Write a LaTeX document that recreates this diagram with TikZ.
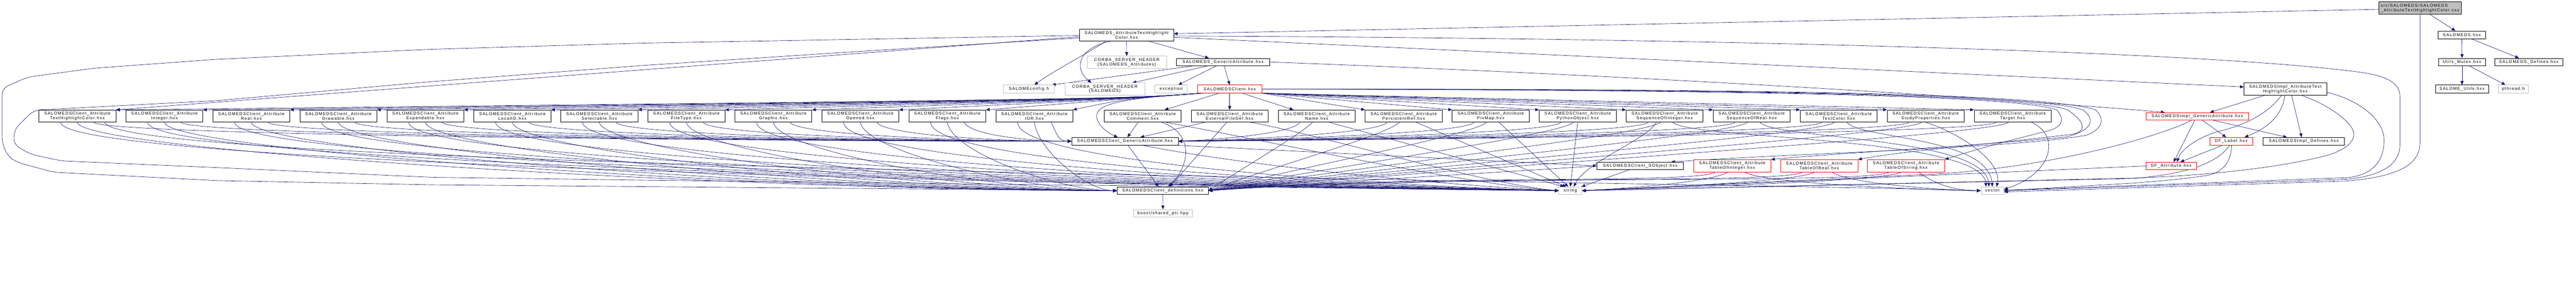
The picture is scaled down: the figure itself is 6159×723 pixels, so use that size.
\documentclass[tikz,border=0pt]{standalone}
\usepackage{fontspec}
\setmainfont{Liberation Sans}[LetterSpace=15]
\usetikzlibrary{arrows.meta,calc,backgrounds}
\definecolor{edgec}{RGB}{25,25,112}
\definecolor{graybd}{RGB}{191,191,191}
\definecolor{topfill}{RGB}{191,191,191}
\begin{document}
\begin{tikzpicture}[x=1pt,y=-1pt,
  lnk/.style={draw=edgec, line width=0.8pt, -{Triangle[length=9pt,width=7.5pt]}},
  bx/.style={draw=black, line width=0.8pt, fill=white, inner sep=0pt, align=center, font=\fontsize{10}{11}\selectfont},
  gbx/.style={bx, draw=graybd},
  rbx/.style={bx, draw=red},
  attr/.style={bx, minimum width=184pt, minimum height=29pt},
  rattr/.style={rbx, minimum width=185pt, minimum height=29pt},
]
\useasboundingbox (0,0) rectangle (6159,723);

% ---------------- nodes ----------------
\node[bx, fill=topfill, minimum width=198pt, minimum height=29pt, align=left] (cxx) at (5786,19.2) {src/SALOMEDS/SALOMEDS\\\_AttributeTextHighlightColor.cxx};
\node[bx, minimum width=114pt, minimum height=19pt] (sds) at (5886,83.5) {SALOMEDS.hxx};
\node[bx, minimum width=111pt, minimum height=18pt] (mutex) at (5886.5,148) {Utils\_Mutex.hxx};
\node[bx, minimum width=162pt, minimum height=18pt] (sdsdef) at (6046,148) {SALOMEDS\_Defines.hxx};
\node[bx, minimum width=127pt, minimum height=19pt] (sutils) at (5886.5,212.5) {SALOME\_Utils.hxx};
\node[gbx, minimum width=72pt, minimum height=19pt] (pthread) at (6009,212.5) {pthread.h};

\node[bx, minimum width=225pt, minimum height=29pt] (ahxx) at (2693.5,83.5) {SALOMEDS\_AttributeTextHighlight\\Color.hxx};
\node[gbx, minimum width=190pt, minimum height=29pt] (corbaA) at (2694,148.5) {CORBA\_SERVER\_HEADER\\(SALOMEDS\_Attributes)};
\node[bx, minimum width=222pt, minimum height=18pt] (sgen) at (2924,148) {SALOMEDS\_GenericAttribute.hxx};
\node[gbx, minimum width=191pt, minimum height=29pt] (corbaS) at (2641.5,212.5) {CORBA\_SERVER\_HEADER\\(SALOMEDS)};
\node[gbx, minimum width=78pt, minimum height=19pt] (exc) at (2800,212.5) {exception};
\node[rbx, minimum width=154pt, minimum height=19pt] (client) at (2940,212.5) {SALOMEDSClient.hxx};
\node[gbx, minimum width=122pt, minimum height=19pt] (sconf) at (2460,212.5) {SALOMEconfig.h};

\foreach \n/\x/\t in {cthc/185/TextHighlightColor, cint/393/Integer, creal/601/Real,
  cdraw/809/Drawable, cexp/1017/Expandable, cloc/1225/LocalID, csel/1433/Selectable,
  cfile/1641/FileType, cgra/1849/Graphic, copen/2057/Opened, cflag/2265/Flags, cior/2473/IOR,
  ccom/2732/Comment, cext/2940/ExternalFileDef, cname/3148/Name, cpers/3356/PersistentRef,
  cpix/3564/PixMap, cpyo/3772/PythonObject, csqi/3980/SequenceOfInteger,
  csqr/4188/SequenceOfReal, ctc/4396/TextColor, cstp/4604/StudyProperties, ctgt/4812/Target}
  \node[attr] (\n) at (\x,277) {SALOMEDSClient\_Attribute\\\t.hxx};

\node[bx, minimum width=255pt, minimum height=18pt] (cgen) at (2689.5,337) {SALOMEDSClient\_GenericAttribute.hxx};
\node[bx, minimum width=218pt, minimum height=18pt] (cdef) at (2780,455) {SALOMEDSClient\_definitions.hxx};
\node[gbx, minimum width=141pt, minimum height=18pt] (boost) at (2780.5,509) {boost/shared\_ptr.hpp};
\node[gbx, minimum width=55pt, minimum height=18pt] (str) at (3754.5,455) {string};
\node[bx, minimum width=207pt, minimum height=18pt] (sobj) at (3921.5,396) {SALOMEDSClient\_SObject.hxx};
\node[rattr] (ctoi) at (4141.5,395.5) {SALOMEDSClient\_Attribute\\TableOfInteger.hxx};
\node[rattr] (ctor) at (4349.5,395.5) {SALOMEDSClient\_Attribute\\TableOfReal.hxx};
\node[rattr] (ctos) at (4557,395.5) {SALOMEDSClient\_Attribute\\TableOfString.hxx};
\node[gbx, minimum width=55pt, minimum height=18pt] (vec) at (4763.5,455) {vector};
\node[bx, minimum width=198pt, minimum height=29pt] (iathc) at (5464,212.5) {SALOMEDSImpl\_AttributeText\\HighlightColor.hxx};
\node[rbx, minimum width=245pt, minimum height=18pt] (igen) at (5253.5,277.5) {SALOMEDSImpl\_GenericAttribute.hxx};
\node[rbx, minimum width=103pt, minimum height=18pt] (dflab) at (5334.5,337) {DF\_Label.hxx};
\node[bx, minimum width=194pt, minimum height=18pt] (idef) at (5508,337) {SALOMEDSImpl\_Defines.hxx};
\node[rbx, minimum width=120pt, minimum height=18pt] (dfatt) at (5191,396) {DF\_Attribute.hxx};

% ---------------- edges ----------------
\begin{pgfonlayer}{background}
% top
\draw[lnk] ($(cxx.west)+(0,3)$) -- ($(ahxx.east)+(0,-3)$);
\draw[lnk] (cxx) -- (sds);
\draw[lnk] (sds) -- (mutex);
\draw[lnk] (sds) -- (sdsdef);
\draw[lnk] (mutex) -- (sutils);
\draw[lnk] (mutex) -- (pthread);
\draw[lnk] (cxx.south) -- (5786,340) .. controls (5786,395) and (5730,422) .. (5610,432) -- ($(vec.east)+(0,3)$);

% SALOMEDS_AttributeTextHighlightColor.hxx
\draw[lnk] (ahxx) -- (corbaA);
\draw[lnk] ($(ahxx.south)+(-38,0)$) .. controls (2575,115) and (2568,165) .. ($(corbaS.north)+(-32,0)$);
\draw[lnk] ($(ahxx.south)+(-50,0)$) .. controls (2600,128) and (2525,165) .. ($(sconf.north)+(13,0)$);
\draw[lnk] (ahxx) -- (sgen);
\draw[lnk] ($(ahxx.east)+(0,5.5)$) -- ($(iathc.west)+(0,-5)$);
\draw[lnk] ($(ahxx.west)+(0,4)$) -- (cthc.north east);
\draw[lnk, rounded corners=15pt] ($(ahxx.west)+(0,1)$) -- (1530,103) -- (1020,118) -- (510,142) -- (223,163) -- (66,184) -- (5,211) -- (5,340) -- (18,372) -- (40,387) -- (128,411) -- (520,431) -- (1030,441) -- (cdef.west);
\draw[lnk, rounded corners=15pt] ($(ahxx.west)+(0,7)$) -- (2050,123) -- (1540,156) -- (1030,195) -- (520,240) -- (81,263) -- (34,309) -- (33,345) -- (73,368) -- (147,384) -- (520,400) -- (1030,423) -- (1540,430) -- (str.west);
\draw[lnk] ($(ahxx.east)+(0,2.5)$) .. controls (4000,90) and (5250,120) .. (5640,172) .. controls (5700,180) and (5738,195) .. (5738,230) -- (5738,345) .. controls (5738,395) and (5690,420) .. (5610,428) -- (vec.east);

% SALOMEDS_GenericAttribute.hxx
\draw[lnk] ($(sgen.south)+(-37,0)$) -- ($(corbaS.north)+(66,0)$);
\draw[lnk] ($(sgen.south)+(-72,0)$) -- ($(sconf.north)+(55,0)$);
\draw[lnk] ($(sgen.south)+(-16,0)$) -- ($(exc.north)+(17,0)$);
\draw[lnk] ($(sgen.south)+(3,0)$) -- (client.north);
\draw[lnk] (sgen.east) .. controls (3900,180) and (4700,228) .. ($(igen.north west)+(45,0)$);

% SALOMEDSClient.hxx
\draw[lnk] ($(client.south)+(-25,0)$) -- ($(ccom.north east)+(-40,0)$);
\draw[lnk] (client) -- (cext);
\draw[lnk] ($(client.south west)+(20,0)$) .. controls (2700,233) and (2620,245) .. (2622,278) .. controls (2624,300) and (2650,318) .. ($(cgen.north)+(-17,0)$);
\draw[lnk] ($(client.south)+(30,0)$) -- ($(cname.north west)+(37,0)$);
\foreach \n in {cpers,cpix,cpyo,csqi,csqr,ctc,cstp,ctgt}
  \draw[lnk] (client.south east) -- (\n.north west);
\draw[lnk] (client.east) .. controls (4200,215) and (4820,228) .. (4917,262) .. controls (4935,282) and (4935,302) .. (4897,312) .. controls (4860,322) and (4760,345) .. (ctos.north east);
\draw[lnk] (client.east) .. controls (4200,214) and (4840,226) .. (4943,262) .. controls (4985,290) and (4990,312) .. (4957,320) .. controls (4800,340) and (4550,360) .. (ctor.north east);
\draw[lnk] (client.east) .. controls (4200,213) and (4860,224) .. (4980,262) .. controls (5010,285) and (5005,310) .. (4940,327) .. controls (4700,350) and (4400,365) .. (ctoi.north east);
\draw[lnk] (client.east) .. controls (4200,212) and (4880,222) .. (5010,262) .. controls (5035,285) and (5025,310) .. (4987,323) .. controls (4800,355) and (4300,365) .. ($(sobj.north east)+(-30,0)$);

% left attribute boxes
\foreach \n/\x in {cthc/185,cint/393,creal/601,cdraw/809,cexp/1017,cloc/1225,csel/1433,cfile/1641,cgra/1849,copen/2057,cflag/2265,cior/2473}{
  \pgfmathsetmacro\dg{0.35*(2562-\x)}
  \pgfmathsetmacro\dd{0.35*(2671-\x)}
  \pgfmathsetmacro\ds{0.3*(3727-\x)}
  \draw[lnk] ($(client.south west)+(10,0)$) .. controls (2690,236) .. (\n.north east);
  \draw[lnk] ($(\n.south)+(40,0)$) .. controls +(15,30) and +(-\dg,0) .. (cgen.west);
  \draw[lnk] (\n.south) .. controls +(10,70) and +(-\dd,0) .. (cdef.west);
  \draw[lnk] ($(\n.south)+(-40,0)$) .. controls +(0,100) and +(-\ds,-10) .. (str.west);
}
\draw[lnk] ($(cthc.south)+(65,0)$) .. controls +(30,110) and +(-900,-25) .. (vec.west);

% Comment, ExternalFileDef
\draw[lnk] ($(ccom.south)+(-11,0)$) -- ($(cgen.north)+(6,0)$);
\draw[lnk] ($(ccom.south)+(45,0)$) .. controls (2850,315) and (2850,390) .. ($(cdef.north)+(13,0)$);
\draw[lnk] ($(ccom.south)+(55,0)$) .. controls (3000,330) and (3500,440) .. (str.west);
\draw[lnk] ($(cext.south)+(-60,0)$) -- ($(cgen.north)+(37,0)$);
\draw[lnk] ($(cext.south)+(-7,0)$) -- ($(cdef.north)+(17,0)$);
\draw[lnk] ($(cext.south)+(50,0)$) .. controls (3150,320) and (3550,440) .. (str.west);

% right attribute boxes
\foreach \n/\x in {cname/3148,cpers/3356,cpix/3564,cpyo/3772,csqi/3980,csqr/4188,ctc/4396,cstp/4604,ctgt/4812}{
  \pgfmathsetmacro\dg{0.35*(\x-2817)}
  \pgfmathsetmacro\dd{0.35*(\x-2889)}
  \draw[lnk] ($(\n.south)+(-40,0)$) .. controls +(-15,25) and +(\dg,-5) .. (cgen.east);
  \draw[lnk] ($(\n.south)+(-10,0)$) .. controls +(-30,30) and +(\dd,-60) .. (cdef.east);
}
\draw[lnk] ($(cname.south)+(30,0)$) -- ($(str.north)+(-15,0)$);
\draw[lnk] ($(cpers.south)+(30,0)$) -- ($(str.north)+(-10,0)$);
\draw[lnk] ($(cpix.south)+(20,0)$) -- ($(str.north)+(-5,0)$);
\draw[lnk] (cpyo.south) -- (str.north);
\draw[lnk] ($(csqi.south)+(-20,0)$) .. controls +(-20,40) and +(30,-60) .. ($(str.north)+(8,0)$);
\draw[lnk] ($(csqi.south)+(20,0)$) .. controls +(30,40) and +(-10,-120) .. ($(vec.north)+(-15,0)$);
\draw[lnk] ($(csqr.south)+(20,0)$) .. controls +(30,40) and +(-10,-120) .. ($(vec.north)+(-8,0)$);
\draw[lnk] ($(ctc.south)+(20,0)$) .. controls +(30,40) and +(-10,-120) .. (vec.north);
\draw[lnk] (cstp.south) .. controls +(80,25) and +(15,-60) .. ($(vec.north)+(10,0)$);
\draw[lnk] ($(ctgt.south)+(45,0)$) .. controls +(68,30) and +(120,-40) .. ($(vec.east)+(0,-3)$);

% tables
\foreach \n/\x in {ctoi/4141.5,ctor/4349.5,ctos/4557}{
  \pgfmathsetmacro\dd{0.35*(\x-2889)}
  \draw[lnk] ($(\n.south)+(-40,0)$) .. controls +(-30,30) and +(\dd,-40) .. (cdef.east);
  \draw[lnk] ($(\n.south)+(-10,0)$) .. controls +(-40,25) and +(100,-5) .. (str.east);
  \draw[lnk] ($(\n.south)+(30,0)$) .. controls +(40,30) and +(-60,0) .. (vec.west);
}

% SObject, generic attribute, definitions
\draw[lnk] (sobj) -- (str);
\draw[lnk] (sobj.west) .. controls (3600,410) and (3100,440) .. (cdef.east);
\draw[lnk] ($(cgen.south)+(7,0)$) -- ($(cdef.north)+(-10,0)$);
\draw[lnk] ($(cgen.south)+(40,0)$) .. controls (3000,400) and (3500,445) .. (str.west);
\draw[lnk] ($(cgen.south east)+(-10,0)$) -- (sobj.west);
\draw[lnk] (cdef) -- (boost);

% SALOMEDSImpl part
\draw[lnk] (iathc) -- (igen);
\draw[lnk] ($(iathc.south)+(-1,0)$) .. controls (5458,265) and (5435,300) .. ($(dflab.north)+(32,0)$);
\draw[lnk] ($(iathc.south)+(-9,0)$) .. controls (5420,275) and (5360,300) .. (5307,313) .. controls (5260,325) and (5215,355) .. ($(dfatt.north)+(14,0)$);
\draw[lnk] ($(iathc.south)+(15,0)$) -- ($(idef.north)+(-5,0)$);
\draw[lnk] ($(iathc.east)+(0,8)$) .. controls (5630,235) and (5700,280) .. (5700,335) .. controls (5700,395) and (5660,420) .. (5610,424) -- ($(vec.east)+(0,-1)$);
\draw[lnk] ($(iathc.south)+(38,0)$) .. controls (5570,250) and (5628,295) .. (5628,320) .. controls (5628,350) and (5580,368) .. (5547,375) .. controls (5450,398) and (5300,418) .. (5100,425) -- (str.east);
\draw[lnk] ($(igen.south)+(-6,0)$) -- ($(dfatt.north)+(6,0)$);
\draw[lnk] ($(igen.south)+(12,0)$) -- ($(dflab.north)+(-12,0)$);
\draw[lnk] ($(igen.south)+(38,0)$) -- ($(idef.north)+(-40,0)$);
\draw[lnk] ($(igen.south)+(-14,0)$) .. controls (5180,320) and (4900,405) .. (4590,417) -- (str.east);
\draw[lnk] ($(dflab.south)+(-20,0)$) -- ($(dfatt.north)+(22,0)$);
\draw[lnk] ($(dflab.south)+(-3,0)$) .. controls (5300,390) and (5230,415) .. (5100,426) -- (str.east);
\draw[lnk] ($(dflab.south)+(1,0)$) .. controls (5335,390) and (5310,412) .. (5280,418) .. controls (5220,428) and (5150,433) .. (5100,437) -- (vec.east);
\draw[lnk] (dfatt.west) -- (str.east);
\end{pgfonlayer}
\end{tikzpicture}
\end{document}
